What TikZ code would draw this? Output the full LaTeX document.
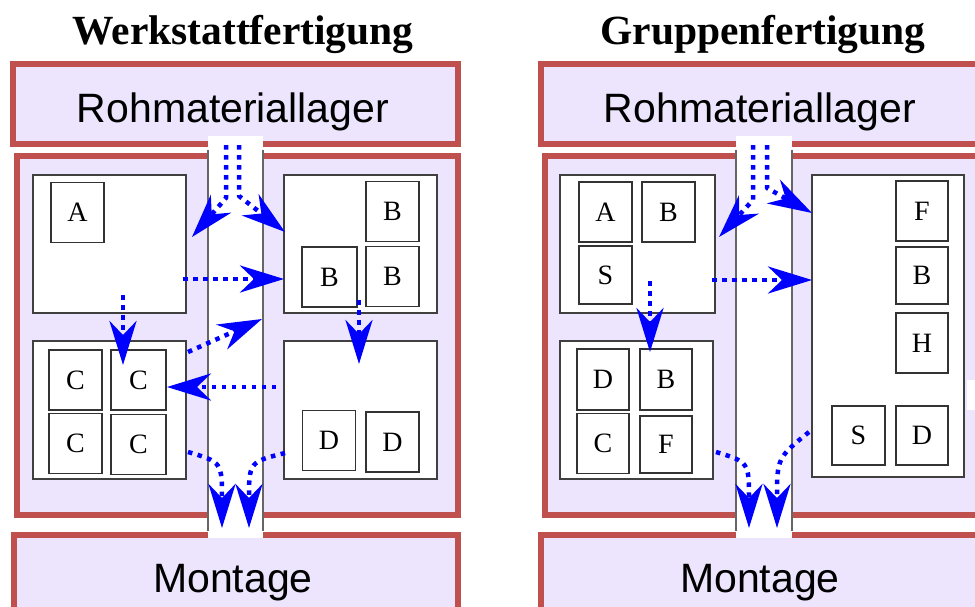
\documentclass[tikz,border=0pt]{standalone}
\usepackage{fontspec}
\setmainfont{Liberation Serif}
\newfontfamily\lsans{Liberation Sans}
\usetikzlibrary{arrows.meta}
\definecolor{redb}{RGB}{192,80,77}
\definecolor{lav}{RGB}{236,229,253}
\definecolor{flowblue}{RGB}{0,0,255}
\begin{document}
\begin{tikzpicture}[x=1pt,y=-1pt,
  area/.style={draw=redb, line width=6pt, fill=lav, rectangle, inner sep=0pt},
  ws/.style={draw=black!75, line width=1.5pt, fill=white, rectangle, inner sep=0pt},
  mach/.style={draw=black!80, line width=1.5pt, fill=white, rectangle, inner sep=0pt,
    minimum width=53pt, minimum height=60pt, font=\fontsize{28}{28}\selectfont},
  lane/.style={fill=white, draw=none, rectangle, inner sep=0pt},
  laneedge/.style={draw=black!60, line width=1.5pt},
  lbl/.style={font=\lsans\fontsize{41}{41}\selectfont, anchor=base, inner sep=0pt},
  ttl/.style={font=\bfseries\fontsize{41.5}{41.5}\selectfont, anchor=base, inner sep=0pt},
  flow/.style={draw=flowblue, line width=4.5pt, dash pattern=on 4.5pt off 5.5pt, line join=round,
    -{Stealth[length=44pt,width=27pt,inset=14pt]}}
]
\useasboundingbox (0,0) rectangle (975,606);
\clip (0,0) rectangle (975,606);
\fill[white] (0,0) rectangle (975,606);

% ---------------- left: Werkstattfertigung ----------------
\node[ttl] (titleL) at (243,44) {Werkstattfertigung};
\node[area, minimum width=445pt, minimum height=80pt] (rohL) at (235.5,104) {};
\node[area, minimum width=441.5pt, minimum height=359pt] (midL) at (237.25,335.5) {};
\node[area, minimum width=444pt, minimum height=165pt] (monL) at (236,617.5) {};
\node[lane, minimum width=55pt, minimum height=402pt] (laneL) at (235.5,337) {};
\draw[laneedge] (208,150) -- (208,531);
\draw[laneedge] (263,150) -- (263,531);
\node[lbl] (rohLt) at (233,122) {Rohmateriallager};
\node[lbl] (monLt) at (233,592) {Montage};

\node[ws, minimum width=153pt, minimum height=138pt] (wTL) at (109.5,244) {};
\node[ws, minimum width=153pt, minimum height=138pt] (wTR) at (360.5,244) {};
\node[ws, minimum width=153pt, minimum height=138pt] (wBL) at (109.5,410) {};
\node[ws, minimum width=153pt, minimum height=138pt] (wBR) at (360.5,410) {};

\node[mach] (mA) at (77.5,212.5) {A};
\node[mach] (mB1) at (392.5,211.5) {B};
\node[mach, minimum width=55pt] (mB2) at (329.5,277) {B};
\node[mach] (mB3) at (392.5,276.5) {B};
\node[mach] (mC1) at (75.5,380) {C};
\node[mach, minimum width=55pt] (mC2) at (138.5,380) {C};
\node[mach] (mC3) at (75.5,443.5) {C};
\node[mach, minimum width=55pt] (mC4) at (138.5,444.5) {C};
\node[mach] (mD1) at (329,440.5) {D};
\node[mach] (mD2) at (392.5,442) {D};

% flows left
\coordinate (a1s) at (226,145); \coordinate (a1c) at (226,198); \coordinate (a1t) at (192,237);
\coordinate (a2s) at (239,145); \coordinate (a2c) at (239,196); \coordinate (a2t) at (285,232);
\coordinate (a3s) at (183,279); \coordinate (a3t) at (284,279);
\coordinate (a4s) at (123,295); \coordinate (a4t) at (123,365);
\coordinate (a5s) at (359,300); \coordinate (a5t) at (359,364);
\coordinate (a6s) at (188,352); \coordinate (a6t) at (262,319);
\coordinate (a7s) at (276,387); \coordinate (a7t) at (167,387);
\coordinate (a8s) at (188,452); \coordinate (a8c) at (222,462); \coordinate (a8t) at (222,528);
\coordinate (a9s) at (285,453); \coordinate (a9c) at (249,462); \coordinate (a9t) at (249,528);
\draw[flow] (a1s) -- (a1c) -- (a1t);
\draw[flow] (a2s) -- (a2c) -- (a2t);
\draw[flow] (a3s) -- (a3t);
\draw[flow] (a4s) -- (a4t);
\draw[flow] (a5s) -- (a5t);
\draw[flow] (a6s) -- (a6t);
\draw[flow] (a7s) -- (a7t);
\draw[flow] (a8s) .. controls (a8c) .. (a8t);
\draw[flow] (a9s) .. controls (a9c) .. (a9t);

% ---------------- right: Gruppenfertigung ----------------
\node[ttl] (titleR) at (763,44) {Gruppenfertigung};
\node[area, minimum width=560pt, minimum height=80pt] (rohR) at (821,104) {};
\node[area, minimum width=556pt, minimum height=359pt] (midR) at (823,335.5) {};
\node[area, minimum width=560pt, minimum height=165pt] (monR) at (821,617.5) {};
\node[lane, minimum width=56pt, minimum height=402pt] (laneR) at (764,337) {};
\draw[laneedge] (736,150) -- (736,531);
\draw[laneedge] (792,150) -- (792,531);
\node[lbl] (rohRt) at (760,122) {Rohmateriallager};
\node[lbl] (monRt) at (760,592) {Montage};
\node[lane, minimum width=9pt, minimum height=30pt] (frag) at (971.5,395) {};

\node[ws, minimum width=155pt, minimum height=138pt] (gTL) at (637.5,244) {};
\node[ws, minimum width=153pt, minimum height=138pt] (gBL) at (636.5,410) {};
\node[ws, minimum width=152pt, minimum height=302pt] (gR) at (888,326) {};

\node[mach] (gA) at (605.5,212) {A};
\node[mach] (gB) at (668.5,212) {B};
\node[mach, minimum height=58pt] (gS) at (605.5,275) {S};
\node[mach, minimum width=52pt, minimum height=61pt] (gD) at (603,379.5) {D};
\node[mach, minimum width=52pt, minimum height=61pt] (gB2) at (666,379.5) {B};
\node[mach, minimum width=52pt] (gC) at (603,443.5) {C};
\node[mach, minimum width=52pt, minimum height=57pt] (gF) at (666,444.5) {F};
\node[mach, minimum width=52pt] (gF2) at (922,211) {F};
\node[mach, minimum width=52pt, minimum height=57pt] (gB3) at (922,275.5) {B};
\node[mach, minimum width=52pt] (gH) at (922,343) {H};
\node[mach, minimum height=59pt] (gS2) at (858.5,435.5) {S};
\node[mach, minimum width=52pt, minimum height=59pt] (gD2) at (922,435.5) {D};

% flows right
\coordinate (b1s) at (753,145); \coordinate (b1c) at (753,200); \coordinate (b1t) at (719,237);
\coordinate (b2s) at (767,145); \coordinate (b2c) at (767,188); \coordinate (b2t) at (812,213);
\coordinate (b3s) at (712,280); \coordinate (b3t) at (812,280);
\coordinate (b4s) at (650,281); \coordinate (b4t) at (650,352);
\coordinate (b5s) at (716,452); \coordinate (b5c) at (749,462); \coordinate (b5t) at (749,528);
\coordinate (b6s) at (809,432); \coordinate (b6c) at (777,458); \coordinate (b6t) at (777,528);
\draw[flow] (b1s) -- (b1c) -- (b1t);
\draw[flow] (b2s) -- (b2c) -- (b2t);
\draw[flow] (b3s) -- (b3t);
\draw[flow] (b4s) -- (b4t);
\draw[flow] (b5s) .. controls (b5c) .. (b5t);
\draw[flow] (b6s) .. controls (b6c) .. (b6t);
\end{tikzpicture}
\end{document}
